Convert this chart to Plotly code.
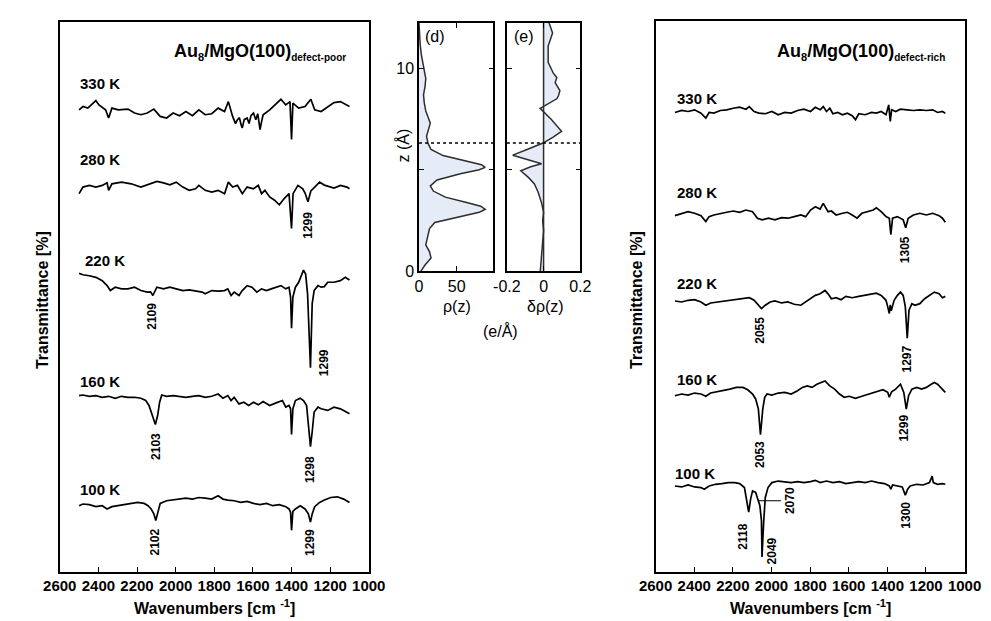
import plotly.graph_objects as go

FONT = "Liberation Sans, Arial, Helvetica, sans-serif"
W, H = 991, 621

temps = ["330 K", "280 K", "220 K", "160 K", "100 K"]

# ---------------- Au8/MgO(100) defect-poor spectra (relative transmittance) ----------------
poor_330_wn = [2500, 2480, 2455, 2413, 2397, 2363, 2347, 2330, 2297, 2247, 2213, 2180, 2147, 2113, 2080,
               2047, 2013, 1980, 1947, 1913, 1880, 1847, 1813, 1780, 1747, 1727, 1705, 1690, 1680, 1670,
               1660, 1655, 1645, 1630, 1620, 1610, 1597, 1585, 1575, 1563, 1555, 1547, 1513, 1480, 1455,
               1430, 1408, 1400, 1393, 1363, 1330, 1300, 1280, 1247, 1213, 1180, 1147, 1113, 1100]
poor_330_v = [0, 3.3, 1.7, 9.3, 5, 0, -8.3, 1.7, 0, 0.7, -3.3, -5, -3.3, 0.7, -6.7,
              -8.3, -3.3, -6, -1.7, -6, 0, -5, -4, 1.7, -1.7, 8.3, -6.7, -14, -10, -8,
              -16, -18.3, -10, -8.3, -14, -6, -3.3, -10, -4, -20, -12, -5, 0, 6.7, 10.7,
              5, 8.3, -30, 6.7, 1.7, 3.3, 10.7, 0, -1.7, 3.3, 7.3, 8.3, 5, 3.3]

poor_280_wn = [2500, 2480, 2447, 2413, 2380, 2355, 2347, 2330, 2280, 2230, 2180, 2147, 2097, 2063, 2030,
               1997, 1963, 1930, 1897, 1880, 1847, 1813, 1780, 1747, 1727, 1705, 1680, 1655, 1630, 1597,
               1572, 1555, 1538, 1513, 1488, 1463, 1438, 1413, 1400, 1392, 1367, 1342, 1330, 1315, 1300,
               1280, 1255, 1230, 1200, 1180, 1147, 1113, 1100]
poor_280_v = [-6.7, 0, 1.7, 0, 1.7, 4.3, -3.3, 3.3, 5, 3.3, 0, 2.3, 5.7, 4.3, 2.3,
              5, 0, -3.3, -1.7, 1.7, -3.3, -5, -3.3, -6.7, 5, 0, 1.7, -6.7, 0, -1.7,
              1.7, -6.7, -3.3, -10, -13.3, -18, -11.7, -6.7, -42, -6.7, 1.7, -1.7, -6, -15, -4,
              0, 5, 2, 0, -1, 1.7, 0, -1.7]

poor_220_wn = [2500, 2480, 2447, 2413, 2380, 2355, 2338, 2313, 2280, 2247, 2213, 2180, 2147, 2130, 2118,
               2105, 2097, 2063, 2030, 1997, 1963, 1930, 1897, 1863, 1847, 1813, 1780, 1747, 1730, 1713,
               1697, 1672, 1655, 1630, 1605, 1580, 1555, 1530, 1505, 1480, 1455, 1430, 1413, 1405, 1400,
               1393, 1380, 1363, 1347, 1338, 1327, 1317, 1302, 1293, 1283, 1263, 1247, 1230, 1213, 1180,
               1147, 1122, 1100]
poor_220_v = [15.7, 14.3, 13.3, 11.7, 8.3, 3.3, -1.7, 1.7, 0, 0, 1.7, -1.7, -3.3, -3, -6.7,
              -1, 1.7, 0, 1.7, 0, -1.7, -1, -2.3, -3.3, -5, -1.7, -2.3, -1.7, 0, -6.7,
              -3.3, -6.7, -1.7, 3.3, 1.7, -3.3, 0, -1.7, 0, 1.7, 3.3, 0, 1.7, -8.3, -40,
              -8.3, 1.7, 6.7, 15, 19, 15, -5, -80, -15, -1.7, 3.3, 1.7, 2.3, 6.7, 6.7,
              8.3, 11.7, 9]

poor_160_wn = [2500, 2480, 2447, 2413, 2380, 2347, 2313, 2280, 2247, 2213, 2180, 2155, 2138, 2122, 2105,
               2093, 2083, 2072, 2047, 2013, 1980, 1947, 1913, 1880, 1847, 1813, 1780, 1755, 1730, 1713,
               1697, 1672, 1647, 1622, 1597, 1572, 1547, 1513, 1480, 1447, 1430, 1413, 1405, 1400, 1393,
               1380, 1355, 1338, 1322, 1310, 1302, 1293, 1283, 1263, 1247, 1213, 1180, 1147, 1122, 1100]
poor_160_v = [0.7, 1.3, 0, 0.7, -1, 0, -2, 0, -1, -1, -2, -4.3, -9.3, -19.3, -28.7,
              -19.3, -6, 1.3, 0, 0.7, 0, -1, 0, 0.7, -1, 0, 2.3, -2, 0.7, -4.3,
              -1, -7.7, -6, -9.3, -6, -8.7, -5.3, -9.3, -6.7, -4.3, -11, -9.3, -12.7, -38.7, -12.7,
              -4.3, -2, -4.3, -9.3, -36, -51, -36, -16, -11, -12.7, -14.3, -11, -12.7, -15.3, -17.7]

poor_100_wn = [2500, 2480, 2447, 2413, 2380, 2355, 2330, 2297, 2263, 2230, 2197, 2163, 2143, 2127, 2113,
               2103, 2093, 2080, 2047, 2013, 1980, 1947, 1913, 1880, 1847, 1813, 1780, 1755, 1730, 1697,
               1663, 1630, 1597, 1563, 1530, 1497, 1463, 1430, 1413, 1405, 1400, 1393, 1380, 1355, 1330,
               1313, 1302, 1293, 1280, 1255, 1230, 1197, 1163, 1130, 1100]
poor_100_v = [0, 1.7, 1, -1, 0, -3.3, -1, 0, 1, 2.3, 3.3, 2.3, 0, -3.3, -8.3,
              -15, -6.7, 2.3, 5, 5.7, 6.7, 7.7, 6.7, 8.3, 7.7, 6.7, 10, 6.7, 5.7, 5,
              3.3, 4.3, 2.3, 1, 2.3, 0, 1, -1, -3.3, -6.7, -25, -5.7, -3.3, 0, -3.3,
              -8.3, -16.7, -8.3, -1, 3.3, 5.7, 8.3, 9, 6.7, 3.3]

poor_offsets = [468.7, 390.3, 287.0, 178.0, 67.0]

# ---------------- Au8/MgO(100) defect-rich spectra ----------------
rich_330_wn = [2500, 2465, 2432, 2398, 2365, 2340, 2323, 2298, 2265, 2232, 2198, 2165, 2132, 2115, 2090,
               2065, 2032, 1998, 1965, 1932, 1898, 1865, 1832, 1798, 1773, 1748, 1732, 1715, 1698, 1682,
               1657, 1632, 1607, 1582, 1565, 1548, 1515, 1482, 1457, 1432, 1407, 1393, 1385, 1378, 1357,
               1332, 1298, 1265, 1232, 1198, 1165, 1140, 1115, 1100]
rich_330_v = [-1, 1, 0, 1.7, -1.7, -6.7, -1, -1.7, 1, 1.7, 3.3, 4.3, 2.3, 5, 0,
              -1.7, -2.3, 0, -3.3, -1, -1.7, 1, 2.3, 0, 4.3, 1.7, 5, 0, 3.3, -2.3,
              -1, -3.3, -1.7, -4.3, -8.3, -2.3, -3.3, -1, -1.7, 0, -3.3, 6.7, -10, 1.7, 0,
              2.3, 1.7, 1, 1.7, 1, 1.7, -1, 0, -1.7]

rich_280_wn = [2500, 2465, 2432, 2398, 2365, 2340, 2323, 2298, 2265, 2232, 2198, 2165, 2132, 2098, 2073,
               2048, 2015, 1982, 1948, 1915, 1882, 1848, 1823, 1798, 1773, 1748, 1732, 1707, 1690, 1665,
               1632, 1607, 1582, 1557, 1532, 1498, 1473, 1457, 1432, 1407, 1390, 1382, 1373, 1348, 1332,
               1318, 1305, 1292, 1265, 1232, 1198, 1165, 1132, 1115, 1100]
rich_280_v = [-0.7, 1.7, 3.3, 1.7, -0.7, -6.7, -1.7, 0, 1.7, 2.7, 4, 2.7, 5, 3.3, -3.3,
              -5, -3.3, -5, -2.7, -3.3, -1.7, 0, -1.7, 5, 8.3, 6, 11.7, 3.3, 4, 0,
              1.7, 2.7, 0, -3.3, 1.7, 3.3, 5, 7.3, 3.3, -1.7, -3.3, -20, -3.3, -1.7, -3.3,
              -5, -13, -3.3, 0, 1.7, 0, 1.7, -0.7, -3.3, -7.3]

rich_220_wn = [2500, 2465, 2432, 2398, 2365, 2340, 2315, 2282, 2248, 2215, 2182, 2148, 2115, 2090, 2065,
               2052, 2032, 2007, 1982, 1948, 1915, 1882, 1848, 1823, 1798, 1773, 1748, 1723, 1707, 1690,
               1665, 1640, 1615, 1582, 1548, 1515, 1482, 1457, 1432, 1407, 1398, 1390, 1385, 1380, 1365,
               1348, 1332, 1318, 1307, 1297, 1288, 1273, 1257, 1232, 1207, 1182, 1157, 1132, 1115, 1100]
rich_220_v = [0, -1, 0.7, 1.3, -1, -4.3, -2, -1, 0, 0.7, 1.3, 2.3, 3.3, 0.7, -5.3,
              -7.7, -4.3, -1, 0, -2, -1, -3.3, -4.3, -1, 2.3, 5.7, 7.3, 10.7, 7.3, 2.3,
              3.3, 1.3, 4.7, 3.3, 4.7, 5.7, 6.7, 8, 5.7, 0.7, -6, -12.7, -4, -10, 0.7,
              5.7, 9, 5.7, -6, -37.7, -9.3, -2.7, -4.3, -2.7, 2.3, 5.7, 9, 7.3, 3.3, 4.7]

rich_160_wn = [2500, 2465, 2432, 2398, 2365, 2340, 2315, 2282, 2248, 2215, 2182, 2148, 2123, 2098, 2082,
               2068, 2057, 2045, 2035, 2023, 1998, 1965, 1932, 1898, 1865, 1840, 1815, 1790, 1765, 1740,
               1723, 1698, 1673, 1648, 1623, 1598, 1565, 1532, 1498, 1473, 1448, 1423, 1398, 1390, 1378,
               1357, 1332, 1315, 1302, 1290, 1273, 1248, 1223, 1198, 1173, 1157, 1140, 1115, 1100]
rich_160_v = [-1.7, 0, -1, 1, 0, -2.3, 1, 2.3, 3.3, 5, 6.7, 6.7, 4.3, 0, -5,
              -15, -41.3, -15, -3.3, 0, -1, 1, 1.7, 0, 3.3, 6.7, 8.3, 6.7, 10, 11.7,
              13.3, 8.3, 5, 0, -3.3, -2.3, -4.3, -2.3, 0, 1.7, 3.3, 4.3, 1.7, -3.3, 2.3,
              5, 10, 1.7, -15.3, -1.7, 5, 6.7, 5, 6.7, 10, 11.7, 10, 5, 1.7]

rich_100_wn = [2500, 2465, 2432, 2398, 2365, 2348, 2323, 2290, 2257, 2223, 2190, 2165, 2140, 2128, 2118,
               2108, 2098, 2082, 2068, 2060, 2052, 2049, 2040, 2032, 2018, 1998, 1965, 1932, 1898, 1865,
               1832, 1798, 1773, 1748, 1715, 1682, 1648, 1615, 1582, 1548, 1515, 1482, 1448, 1415, 1390,
               1382, 1373, 1348, 1323, 1307, 1295, 1282, 1248, 1215, 1182, 1168, 1162, 1140, 1115, 1100]
rich_100_v = [-1.7, -2.7, -0.7, -2.7, -3.3, -5, -1.7, 0, 0.7, 1.7, 1.7, 0.7, -3.3, -16.7, -28.3,
              -15, -6.7, -8.3, -16.7, -21.7, -36.7, -73.7, -36.7, -13.3, -3.3, 1.7, 3.3, 2.7, 1.7, 2.7,
              1.7, 2.7, 4, 1.7, 3.3, 1.7, 2.7, 0.7, 1.7, 2.7, 1.7, 3.3, 1.7, 0.7, -1.7,
              -5, -0.7, -1.7, -2.7, -11, -5, -1.7, 0, -0.7, 1.7, 8.3, 1.7, 0, 0.7, 0]

rich_offsets = [467.0, 362.0, 274.7, 180.3, 88.7]

# ---------------- peak labels ----------------
poor_peak_text = ["1299", "2109", "1299", "2103", "1298", "2102", "1299"]
poor_peak_wn = [1315, 2121, 1235, 2105, 1305, 2105, 1305]
poor_peak_y = [352, 259, 212, 127, 104, 30, 30]

rich_peak_text = ["1305", "2055", "1297", "2053", "1299", "2118", "2049", "1300"]
rich_peak_wn = [1305, 2057, 1300, 2057, 1315, 2145, 1995, 1308]
rich_peak_y = [327, 245, 216, 119, 146, 36, 21, 57]

# temperature label anchors
poor_temp_wn = [2505, 2505, 2480, 2505, 2505]
poor_temp_y = [495, 418, 316, 193, 83]
rich_temp_wn = [2500, 2500, 2500, 2500, 2510]
rich_temp_y = [480, 385, 292, 195, 100]

# ---------------- (d) rho(z) and (e) delta rho(z) ----------------
rho_z = [0, 0.3, 0.65, 0.95, 1.3, 1.75, 2.1, 2.4, 2.7, 2.9, 3.05, 3.2, 3.4, 3.65, 3.95, 4.2, 4.5, 4.8,
         5.0, 5.12, 5.25, 5.45, 5.7, 6.0, 6.3, 6.65, 7.0, 7.3, 7.6, 7.9, 8.3, 8.7, 9.1, 9.5, 9.9, 10.3,
         10.7, 11.2, 11.7, 12.25]
rho = [2.6, 8, 16, 14, 9, 12, 14, 21, 55, 80, 88, 82, 62, 35, 19, 15, 24, 55,
       80, 88, 83, 60, 32, 16, 12, 10, 13, 15, 12, 9, 7, 6, 8, 9, 7, 5,
       3, 1.5, 0.5, 0]

drho_z = [0.0, 0.5, 1.0, 1.5, 2.0, 2.5, 2.9, 3.4, 3.9, 4.3, 4.6, 4.95, 5.15, 5.3, 5.5, 5.72, 6.0, 6.33,
          6.6, 6.9, 7.5, 8.03, 8.5, 8.65, 8.9, 9.3, 9.55, 9.75, 10.3, 11.1, 11.75, 12.25]
drho = [-0.018, -0.013, -0.008, -0.005, 0.0, -0.005, 0.0, -0.012, -0.03, -0.05, -0.08, -0.124, -0.07,
        -0.011, -0.09, -0.168, -0.09, 0.0, 0.05, 0.098, 0.04, -0.019, 0.072, 0.081, 0.089, 0.063,
        0.072, 0.054, 0.025, 0.025, 0.049, 0.03]

z_surface = 6.32

# ---------------- build figure ----------------
poor_sets = [(poor_330_wn, poor_330_v), (poor_280_wn, poor_280_v), (poor_220_wn, poor_220_v),
             (poor_160_wn, poor_160_v), (poor_100_wn, poor_100_v)]
rich_sets = [(rich_330_wn, rich_330_v), (rich_280_wn, rich_280_v), (rich_220_wn, rich_220_v),
             (rich_160_wn, rich_160_v), (rich_100_wn, rich_100_v)]

fig = go.Figure()

for (wn, v), off in zip(poor_sets, poor_offsets):
    assert len(wn) == len(v)
    fig.add_trace(go.Scatter(x=wn, y=[off + a for a in v], mode="lines",
                             line=dict(color="black", width=1.7), xaxis="x", yaxis="y",
                             showlegend=False, hoverinfo="skip"))
for (wn, v), off in zip(rich_sets, rich_offsets):
    assert len(wn) == len(v)
    fig.add_trace(go.Scatter(x=wn, y=[off + a for a in v], mode="lines",
                             line=dict(color="black", width=1.7), xaxis="x4", yaxis="y4",
                             showlegend=False, hoverinfo="skip"))

FILL = "rgb(229,236,247)"
CURVE = "rgb(45,45,45)"
fig.add_trace(go.Scatter(x=rho, y=rho_z, mode="lines", fill="tozerox", fillcolor=FILL,
                         line=dict(color=CURVE, width=1.5), xaxis="x2", yaxis="y2",
                         showlegend=False, hoverinfo="skip"))
fig.add_trace(go.Scatter(x=drho, y=drho_z, mode="lines", fill="tozerox", fillcolor=FILL,
                         line=dict(color=CURVE, width=1.5), xaxis="x3", yaxis="y3",
                         showlegend=False, hoverinfo="skip"))
# zero line in (e)
fig.add_trace(go.Scatter(x=[0, 0], y=[0, 12.25], mode="lines", line=dict(color=CURVE, width=1.5),
                         xaxis="x3", yaxis="y3", showlegend=False, hoverinfo="skip"))
# dotted surface line
fig.add_trace(go.Scatter(x=[0, 98.8], y=[z_surface, z_surface], mode="lines",
                         line=dict(color="black", width=1.3, dash="dot"), xaxis="x2", yaxis="y2",
                         showlegend=False, hoverinfo="skip"))
fig.add_trace(go.Scatter(x=[-0.2, 0.2], y=[z_surface, z_surface], mode="lines",
                         line=dict(color="black", width=1.3, dash="dot"), xaxis="x3", yaxis="y3",
                         showlegend=False, hoverinfo="skip"))


def dx(a, b):
    return [a / W, b / W]


def dy(top, bottom):
    return [1 - bottom / H, 1 - top / H]


BOX = dict(showline=True, linecolor="black", linewidth=1.5, mirror=True, showgrid=False, zeroline=False)
ir_x = dict(BOX, range=[2600, 1000], tickvals=[2600, 2400, 2200, 2000, 1800, 1600, 1400, 1200, 1000],
            ticks="inside", ticklen=5, tickcolor="black",
            tickfont=dict(family=FONT, size=15, color="black", weight="bold"))
ir_y = dict(BOX, showticklabels=False, ticks="")

mid_font = dict(family=FONT, size=16, color="black")
fig.update_layout(
    width=W, height=H, margin=dict(l=0, r=0, t=0, b=0),
    paper_bgcolor="white", plot_bgcolor="white",
    xaxis=dict(ir_x, domain=dx(36, 356), anchor="y"),
    yaxis=dict(ir_y, domain=dy(14, 572), range=[0, 558], anchor="x"),
    xaxis4=dict(ir_x, domain=dx(653, 973), anchor="y4"),
    yaxis4=dict(ir_y, domain=dy(13, 572), range=[0, 559], anchor="x4"),
    xaxis2=dict(BOX, domain=dx(408, 485), anchor="y2", range=[0, 98.8], tickvals=[0, 50],
                ticks="inside", ticklen=5, tickcolor="black", mirror="ticks", tickfont=mid_font),
    yaxis2=dict(BOX, domain=dy(15, 267), anchor="x2", range=[0, 12.25], tickvals=[0, 5, 10],
                ticktext=["0", "", "10"], ticks="inside", ticklen=5, tickcolor="black",
                mirror="ticks", tickfont=mid_font),
    xaxis3=dict(BOX, domain=dx(499, 575), anchor="y3", range=[-0.2, 0.2], tickvals=[-0.2, 0, 0.2],
                ticktext=["-0.2", "0", "0.2"], ticks="inside", ticklen=5, tickcolor="black",
                mirror="ticks", tickfont=mid_font),
    yaxis3=dict(BOX, domain=dy(15, 267), anchor="x3", range=[0, 12.25], tickvals=[5, 10],
                showticklabels=False, ticks="inside", ticklen=5, tickcolor="black", mirror="ticks"),
)

ann = []


def paper(px, py, text, size=16, bold=False, angle=0, xanchor="center"):
    f = dict(family=FONT, size=size, color="black")
    if bold:
        f["weight"] = "bold"
    ann.append(dict(xref="paper", yref="paper", x=px / W, y=1 - py / H, text=text, showarrow=False,
                    font=f, textangle=angle, xanchor=xanchor, yanchor="middle"))


# axis titles
paper(196, 608, "Wavenumbers [cm <sup>-1</sup>]", size=16, bold=True)
paper(813, 608, "Wavenumbers [cm <sup>-1</sup>]", size=16, bold=True)
paper(18, 296, "Transmittance [%]", size=16, bold=True, angle=-90)
paper(633, 296, "Transmittance [%]", size=16, bold=True, angle=-90)
# panel titles
paper(152, 45, "Au<sub><span style='font-size:11px'>8</span></sub>/MgO(100)"
               "<sub><span style='font-size:10px'>defect-poor</span></sub>", size=18, bold=True,
      xanchor="left")
paper(777, 45, "Au<sub><span style='font-size:11px'>8</span></sub>/MgO(100)"
               "<sub><span style='font-size:10px'>defect-rich</span></sub>", size=18, bold=True,
      xanchor="left")
# middle panel labels
paper(425, 29, "(d)", size=16)
paper(517, 29, "(e)", size=16)
paper(447, 303, "ρ(z)", size=16)
paper(539, 303, "δρ(z)", size=16)
paper(492, 328, "(e/Å)", size=16)
paper(391, 140, "z (Å)", size=16, angle=-90)

# temperature labels
for t, wn, y in zip(temps, poor_temp_wn, poor_temp_y):
    ann.append(dict(xref="x", yref="y", x=wn, y=y, text=t, showarrow=False, xanchor="left",
                    yanchor="middle", font=dict(family=FONT, size=15, color="black", weight="bold")))
for t, wn, y in zip(temps, rich_temp_wn, rich_temp_y):
    ann.append(dict(xref="x4", yref="y4", x=wn, y=y, text=t, showarrow=False, xanchor="left",
                    yanchor="middle", font=dict(family=FONT, size=15, color="black", weight="bold")))

# peak labels
pk_font = dict(family=FONT, size=12, color="black", weight="bold")
for t, wn, y in zip(poor_peak_text, poor_peak_wn, poor_peak_y):
    ann.append(dict(xref="x", yref="y", x=wn, y=y, text=t, showarrow=False, textangle=-90,
                    font=pk_font, xanchor="center", yanchor="middle"))
for t, wn, y in zip(rich_peak_text, rich_peak_wn, rich_peak_y):
    ann.append(dict(xref="x4", yref="y4", x=wn, y=y, text=t, showarrow=False, textangle=-90,
                    font=pk_font, xanchor="center", yanchor="middle"))
# 2070 shoulder with leader line
ann.append(dict(xref="x4", yref="y4", x=2068, y=rich_offsets[4] - 16.7, text="2070", showarrow=True,
                arrowhead=0, arrowwidth=1.2, arrowcolor="black", ax=31, ay=0, textangle=-90,
                font=pk_font))

fig.update_layout(annotations=ann)
fig.write_html("out.html")
